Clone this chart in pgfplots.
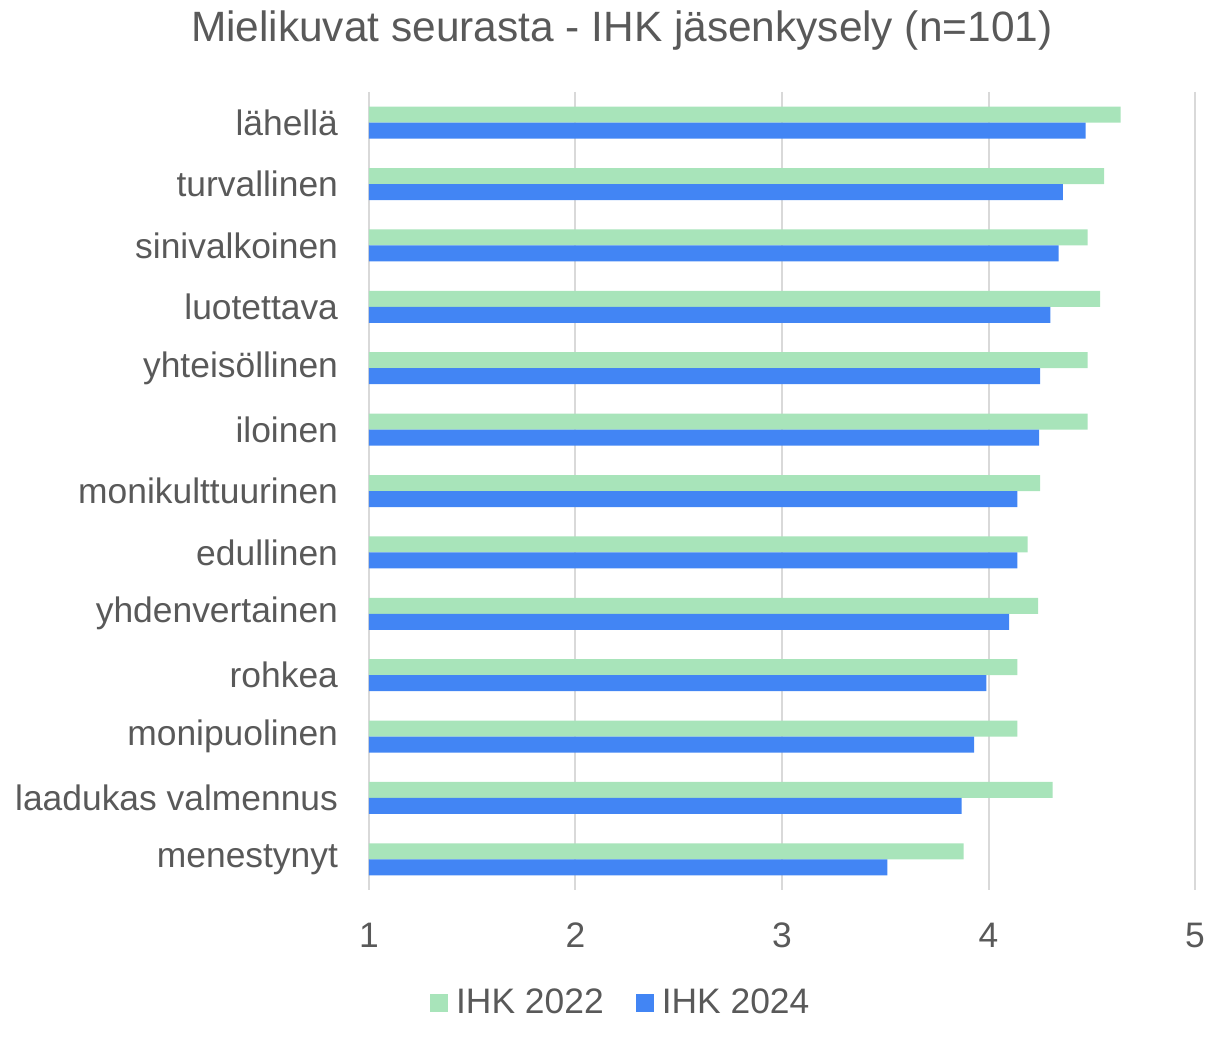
\documentclass[border=0pt]{standalone}
\usepackage{pgfplots}
\pgfplotsset{compat=1.18}
\usepackage{fontspec}
\setmainfont{Liberation Sans}
\definecolor{gA}{HTML}{A8E4BA}
\definecolor{bB}{HTML}{4285F4}
\definecolor{txt}{HTML}{595959}
\definecolor{grd}{HTML}{D9D9D9}
\begin{document}
\begin{tikzpicture}
\begin{axis}[
  scale only axis,
  width=413pt, height=399pt,
  xbar, bar width=8pt,
  xmin=1, xmax=5, xtick={1,2,3,4,5},
  ymin=-0.5, ymax=12.5, y dir=reverse,
  ytick={0,...,12},
  yticklabels={lähellä,turvallinen,sinivalkoinen,luotettava,yhteisöllinen,iloinen,monikulttuurinen,edullinen,yhdenvertainen,rohkea,monipuolinen\hspace{5.5pt},laadukas valmennus,menestynyt},
  axis line style={draw=none},
  major tick length=0pt,
  xmajorgrids, grid style={grd, line width=1pt},
  tick label style={font=\fontsize{17.7}{20}\selectfont, text=txt},
  /pgf/number format/assume math mode=true,
  xticklabel style={yshift=-13pt},
  yticklabel style={xshift=-12pt},
  title={Mielikuvat seurasta - IHK jäsenkysely (n=101)},
  title style={font=\fontsize{21.2}{24}\selectfont, text=txt, at={(0.306,1)}, anchor=base, yshift=19pt},
  legend style={at={(0.306,-0.141)}, anchor=center, draw=none, legend columns=2,
    font=\fontsize{17.7}{20}\selectfont, text=txt,
    /tikz/every odd column/.append style={column sep=2pt},
    /tikz/every even column/.append style={column sep=14pt}},
  legend image code/.code={\fill[#1] (0pt,-4.5pt) rectangle (9pt,4.5pt);},
  clip=false,
]
\addplot[fill=gA, draw=none, bar shift=4pt] coordinates {
(4.64,0) (4.56,1) (4.48,2) (4.54,3) (4.48,4) (4.48,5) (4.25,6) (4.19,7) (4.24,8) (4.14,9) (4.14,10) (4.31,11) (3.88,12)};
\addplot[fill=bB, draw=none, bar shift=-4pt] coordinates {
(4.47,0) (4.36,1) (4.34,2) (4.30,3) (4.25,4) (4.245,5) (4.14,6) (4.14,7) (4.10,8) (3.99,9) (3.93,10) (3.87,11) (3.51,12)};
\legend{IHK 2022, IHK 2024}
\end{axis}
\pgfresetboundingbox
\useasboundingbox (current axis.south west) ++(-184.5pt,-79pt) rectangle ([shift={(12pt,46pt)}]current axis.north east);
\end{tikzpicture}
\end{document}
